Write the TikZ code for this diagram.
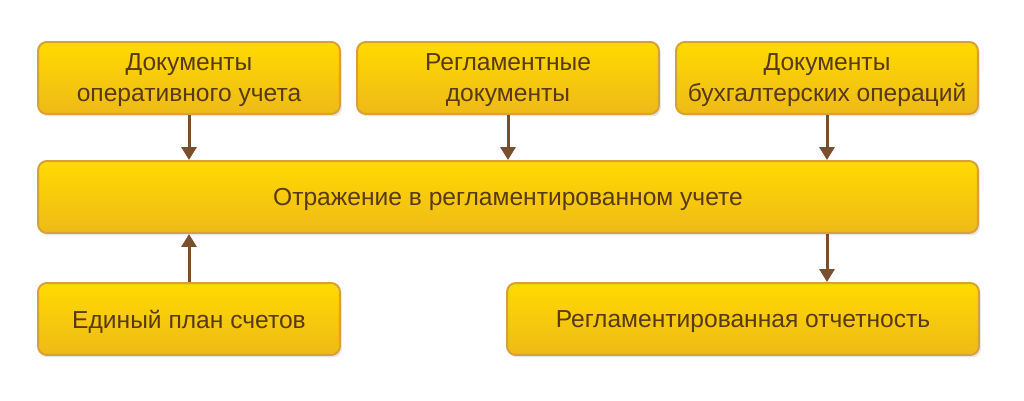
\documentclass[tikz,border=0pt]{standalone}
\usepackage{fontspec}
\setmainfont{Liberation Sans}
\usetikzlibrary{arrows.meta, shadows}
\definecolor{boxtop}{RGB}{255,218,0}
\definecolor{boxbot}{RGB}{238,186,24}
\definecolor{boxline}{RGB}{216,160,56}
\definecolor{txtbrown}{RGB}{88,58,20}
\definecolor{arrbrown}{RGB}{120,80,45}
\begin{document}
\begin{tikzpicture}
        [
            x=0.02cm, y=-0.02cm,
            box/.style={rectangle, rounded corners=5pt, draw=boxline, line width=0.04cm,
                top color=boxtop, bottom color=boxbot, text=txtbrown,
                minimum height=1.44cm, align=center, font=\fontsize{14}{17.6}\selectfont,
                text depth=0pt,
                drop shadow={opacity=0.18, shadow xshift=0.04cm, shadow yshift=-0.05cm}},
            arrow/.style={draw=arrbrown, line width=0.06cm,
                -{Triangle[length=0.26cm, width=0.3cm]}},
        ]
    \useasboundingbox (0,0) rectangle (1024,401);

    % top row
    \node[box, minimum width=6.04cm] (opdoc) at (189,78) {Документы\\оперативного учета};
    \node[box, minimum width=6.04cm] (regdoc) at (508,78) {Регламентные\\документы};
    \node[box, minimum width=6.04cm] (buhdoc) at (827,78) {Документы\\бухгалтерских операций};
    % middle
    \node[box, minimum width=18.8cm] (otraj) at (508,197) {Отражение в регламентированном учете};
    % bottom row
    \node[box, minimum width=6.04cm] (plan) at (189,319) {Единый план счетов};
    \node[box, minimum width=9.44cm] (otch) at (743,319) {Регламентированная отчетность};

    \draw[arrow] (opdoc.south) -- (opdoc.south |- otraj.north);
    \draw[arrow] (regdoc.south) -- (regdoc.south |- otraj.north);
    \draw[arrow] (buhdoc.south) -- (buhdoc.south |- otraj.north);
    \draw[arrow] (plan.north) -- (plan.north |- otraj.south);
    \draw[arrow] (otraj.south -| buhdoc.south) -- (buhdoc.south |- otch.north);
\end{tikzpicture}
\end{document}
